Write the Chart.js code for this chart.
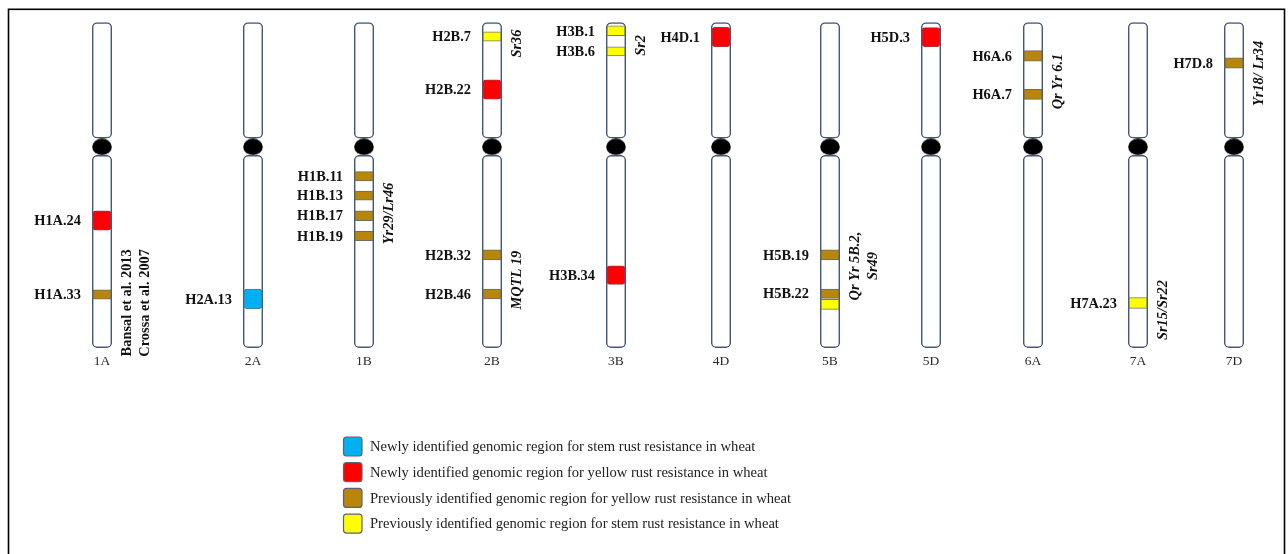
<!DOCTYPE html>
<html>
<head>
<meta charset="utf-8">
<script src="https://cdn.jsdelivr.net/npm/chart.js@4.4.1/dist/chart.umd.min.js"></script>
<style>
  html, body { margin: 0; padding: 0; background: #fff; }
  #wrap { width: 1288px; height: 554px; position: relative; }
</style>
</head>
<body>
<div id="wrap"><canvas id="chartGenome"></canvas></div>
<script>
// chromosomes and where each one sits on the x axis
const chromosomes = ['1A', '2A', '1B', '2B', '3B', '4D', '5B', '5D', '6A', '7A', '7D'];
const chromSlot = [102, 253, 364, 492, 616, 721, 830, 931, 1033, 1138, 1234];

// arm extents (relative position, 0 = top, 100 = bottom)
const shortArm = [0, 35.5];
const longArm = [40.8, 100];
const centromerePos = 38.2;

// genomic regions
const regionNames = ['H1A.24', 'H1A.33', 'H2A.13', 'H1B.11', 'H1B.13', 'H1B.17', 'H1B.19',
  'H2B.7', 'H2B.22', 'H2B.32', 'H2B.46', 'H3B.1', 'H3B.6', 'H3B.34', 'H4D.1',
  'H5B.19', 'H5B.22', '', 'H5D.3', 'H6A.6', 'H6A.7', 'H7A.23', 'H7D.8'];
const regionChrom = ['1A', '1A', '2A', '1B', '1B', '1B', '1B',
  '2B', '2B', '2B', '2B', '3B', '3B', '3B', '4D',
  '5B', '5B', '5B', '5D', '6A', '6A', '7A', '7D'];
const regionStart = [57.9, 82.2, 82.0, 45.8, 51.8, 57.9, 64.2,
  2.8, 17.6, 69.9, 82.0, 1.0, 7.4, 74.8, 1.4,
  69.9, 82.0, 85.1, 1.5, 8.6, 20.5, 84.6, 10.8];
const regionEnd = [63.8, 85.1, 88.0, 48.7, 54.6, 60.9, 67.1,
  5.7, 23.5, 73.0, 85.0, 4.0, 10.2, 80.5, 7.4,
  73.0, 84.8, 88.2, 7.4, 11.8, 23.6, 87.9, 14.0];
const regionType = [1, 2, 0, 2, 2, 2, 2,
  3, 1, 2, 2, 3, 3, 1, 1,
  2, 2, 3, 1, 2, 2, 3, 2];

// legend
const typeLabels = [
  'Newly identified genomic region for stem rust resistance in wheat',
  'Newly identified genomic region for yellow rust resistance in wheat',
  'Previously identified genomic region for yellow rust resistance in wheat',
  'Previously identified genomic region for stem rust resistance in wheat'
];
const typeColors = ['#00b0f0', '#ff0000', '#b8860b', '#ffff00'];
const typeBorders = ['#3f7fb0', '#a83048', '#6a6f5e', '#6f7d6a'];

// known genes / references written beside chromosomes
const geneChrom = ['1A', '1B', '2B', '2B', '3B', '5B', '6A', '7A', '7D'];
const geneText = [
  ['Bansal et al. 2013', 'Crossa et al. 2007'],
  ['Yr29/Lr46'], ['Sr36'], ['MQTL 19'], ['Sr2'],
  ['Qr Yr 5B.2,', 'Sr49'], ['Qr Yr 6.1'], ['Sr15/Sr22'], ['Yr18/ Lr34']
];
const genePos = [86.2, 58.7, 6.4, 79.2, 7.0, 74.9, 18.1, 88.4, 15.6];
const geneItalic = [false, true, true, true, true, true, true, true, true];

const slotOf = (c) => chromSlot[chromosomes.indexOf(c)];

// ellipse used as centromere marker
const centromereImg = document.createElement('canvas');
centromereImg.width = 20;
centromereImg.height = 17;
(function () {
  const g = centromereImg.getContext('2d');
  g.fillStyle = '#000';
  g.beginPath();
  g.ellipse(10, 8.5, 9.8, 8.3, 0, 0, Math.PI * 2);
  g.fill();
})();

const serif = '"Liberation Serif", "Times New Roman", serif';

const labelsPlugin = {
  id: 'labelsPlugin',
  beforeDraw(chart) {
    const ctx = chart.ctx;
    ctx.save();
    ctx.fillStyle = '#fff';
    ctx.fillRect(0, 0, chart.width, chart.height);
    ctx.restore();
  },
  afterDraw(chart) {
    const ctx = chart.ctx;
    const xs = chart.scales.x;
    const ys = chart.scales.y;
    ctx.save();

    // frame
    ctx.strokeStyle = '#000';
    ctx.lineWidth = 1.6;
    ctx.strokeRect(8.5, 9.3, 1276, 560);

    // region names
    ctx.fillStyle = '#111';
    ctx.font = 'bold 14.4px ' + serif;
    ctx.textAlign = 'right';
    ctx.textBaseline = 'middle';
    for (let i = 0; i < regionNames.length; i++) {
      if (!regionNames[i]) continue;
      const px = xs.getPixelForValue(slotOf(regionChrom[i])) - 21;
      const py = ys.getPixelForValue((regionStart[i] + regionEnd[i]) / 2);
      ctx.fillText(regionNames[i], px, py + 1);
    }

    // chromosome names
    ctx.fillStyle = '#2a2a2a';
    ctx.font = '13.5px ' + serif;
    ctx.textAlign = 'center';
    for (let i = 0; i < chromosomes.length; i++) {
      ctx.fillText(chromosomes[i], xs.getPixelForValue(chromSlot[i]), ys.getPixelForValue(104.3));
    }

    // genes, rotated
    ctx.fillStyle = '#111';
    for (let i = 0; i < geneChrom.length; i++) {
      const px = xs.getPixelForValue(slotOf(geneChrom[i])) + 25;
      const py = ys.getPixelForValue(genePos[i]);
      ctx.save();
      ctx.translate(px, py);
      ctx.rotate(-Math.PI / 2);
      ctx.font = (geneItalic[i] ? 'italic ' : '') + 'bold 14.4px ' + serif;
      ctx.textAlign = 'center';
      ctx.textBaseline = 'middle';
      geneText[i].forEach((t, k) => ctx.fillText(t, 0, k * 18));
      ctx.restore();
    }

    // legend
    ctx.font = '14.6px ' + serif;
    ctx.textAlign = 'left';
    ctx.textBaseline = 'middle';
    for (let i = 0; i < typeLabels.length; i++) {
      const cy = 446.5 + i * 25.7;
      ctx.beginPath();
      ctx.roundRect(343.5, cy - 9.5, 18.5, 19, 3);
      ctx.fillStyle = typeColors[i];
      ctx.fill();
      ctx.strokeStyle = '#5a6478';
      ctx.lineWidth = 1.2;
      ctx.stroke();
      ctx.fillStyle = '#222';
      ctx.fillText(typeLabels[i], 370, cy + 1);
    }
    ctx.restore();
  }
};

const cmc = document.getElementById('chartGenome');

new Chart(cmc, {
  type: 'bar',
  plugins: [labelsPlugin],
  data: {
    datasets: [
      {
        label: 'regions',
        order: 1,
        data: regionNames.map((n, i) => ({ x: slotOf(regionChrom[i]), y: [regionStart[i], regionEnd[i]] })),
        backgroundColor: regionType.map((t) => typeColors[t]),
        borderColor: regionType.map((t) => typeBorders[t]),
        borderWidth: 1,
        borderRadius: regionType.map((t) => (t < 2 ? 3 : 0)),
        borderSkipped: false,
        barThickness: 18,
        grouped: false
      },
      {
        label: 'short arm',
        order: 2,
        data: chromSlot.map((x) => ({ x: x, y: shortArm })),
        backgroundColor: '#fff',
        borderColor: '#46597a',
        borderWidth: 1.5,
        borderRadius: 5,
        borderSkipped: false,
        barThickness: 19.5,
        grouped: false
      },
      {
        label: 'long arm',
        order: 2,
        data: chromSlot.map((x) => ({ x: x, y: longArm })),
        backgroundColor: '#fff',
        borderColor: '#46597a',
        borderWidth: 1.5,
        borderRadius: 5,
        borderSkipped: false,
        barThickness: 19.5,
        grouped: false
      },
      {
        type: 'scatter',
        label: 'centromere',
        order: 0,
        data: chromSlot.map((x) => ({ x: x, y: centromerePos })),
        pointStyle: centromereImg,
        pointRadius: 10
      }
    ]
  },
  options: {
    responsive: true,
    maintainAspectRatio: false,
    animation: false,
    layout: { padding: 0, autoPadding: false },
    plugins: {
      legend: { display: false },
      tooltip: { enabled: false }
    },
    scales: {
      x: { type: 'linear', min: 0, max: 1288, offset: false, display: false },
      y: { type: 'linear', min: -6.985, max: 163.48, reverse: true, display: false }
    }
  }
});
</script>
</body>
</html>
